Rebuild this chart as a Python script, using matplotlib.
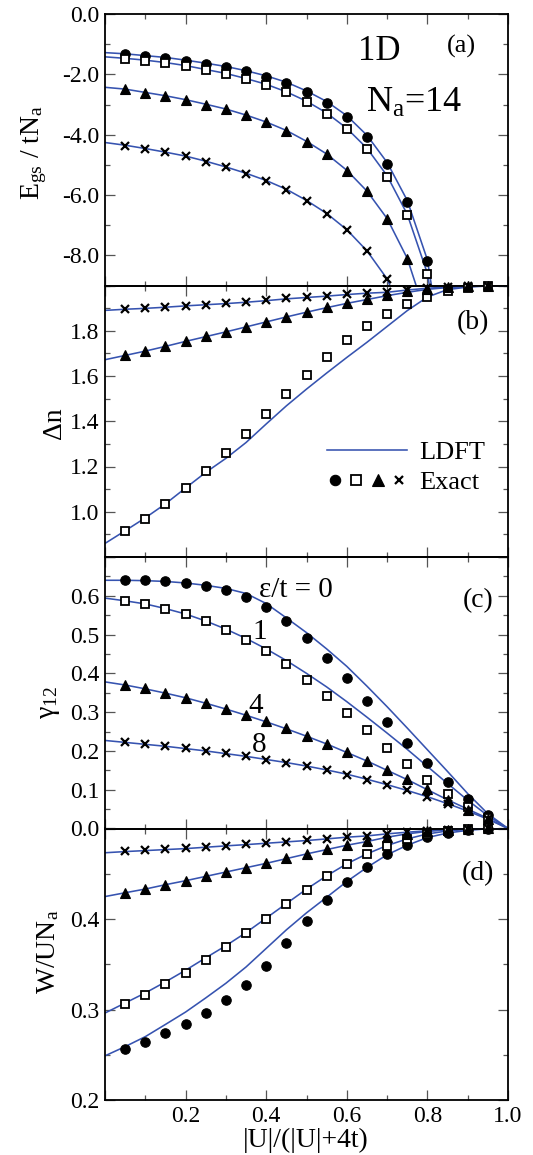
import numpy as np
import matplotlib
matplotlib.use("Agg")
import matplotlib.pyplot as plt
from matplotlib.ticker import MultipleLocator, FixedLocator, FixedFormatter
from matplotlib.lines import Line2D
from matplotlib.legend_handler import HandlerTuple

plt.rcParams['font.family'] = ['Liberation Serif', 'DejaVu Serif']
plt.rcParams['mathtext.fontset'] = 'custom'
plt.rcParams['mathtext.rm'] = 'Liberation Serif'
plt.rcParams['mathtext.it'] = 'Liberation Serif:italic'
plt.rcParams['axes.unicode_minus'] = False

# ---------------- data ----------------
x_exact = [0.05, 0.10, 0.15, 0.20, 0.25, 0.30, 0.35, 0.40, 0.45, 0.50,
           0.55, 0.60, 0.65, 0.70, 0.75, 0.80, 0.85, 0.90, 0.95]
x_ldft = [0.00, 0.05, 0.10, 0.15, 0.20, 0.25, 0.30, 0.35, 0.40, 0.45, 0.50,
          0.55, 0.60, 0.65, 0.70, 0.75, 0.80, 0.85, 0.90, 0.95, 1.00]

# (a) ground-state energy E_gs/tN_a
a_exact_e0 = [-1.33, -1.39, -1.45, -1.55, -1.65, -1.76, -1.90, -2.08, -2.29, -2.59,
              -2.94, -3.42, -4.07, -4.97, -6.24, -8.18]
a_exact_e1 = [-1.49, -1.55, -1.63, -1.73, -1.86, -1.99, -2.16, -2.35, -2.60, -2.91,
              -3.30, -3.81, -4.48, -5.39, -6.67, -8.63]
a_exact_e4 = [-2.50, -2.61, -2.72, -2.85, -3.00, -3.16, -3.36, -3.59, -3.87, -4.23,
              -4.65, -5.19, -5.88, -6.79, -8.11]
a_exact_e8 = [-4.36, -4.47, -4.59, -4.72, -4.89, -5.08, -5.29, -5.53, -5.82, -6.19,
              -6.62, -7.16, -7.86, -8.79]
a_ldft_x_e0 = [0.00, 0.05, 0.10, 0.15, 0.20, 0.25, 0.30, 0.35, 0.40, 0.45, 0.50,
               0.55, 0.60, 0.65, 0.70, 0.75, 0.80, 0.81]
a_ldft_e0 = [-1.28, -1.32, -1.38, -1.44, -1.53, -1.63, -1.74, -1.88, -2.05, -2.26, -2.55,
             -2.90, -3.37, -4.02, -4.92, -6.18, -8.15, -9.00]
a_ldft_x_e1 = [0.00, 0.05, 0.10, 0.15, 0.20, 0.25, 0.30, 0.35, 0.40, 0.45, 0.50,
               0.55, 0.60, 0.65, 0.70, 0.75, 0.80, 0.805]
a_ldft_e1 = [-1.42, -1.47, -1.53, -1.61, -1.71, -1.84, -1.97, -2.14, -2.33, -2.58, -2.89,
             -3.28, -3.79, -4.45, -5.36, -6.64, -8.60, -9.00]
a_ldft_x_e4 = [0.00, 0.05, 0.10, 0.15, 0.20, 0.25, 0.30, 0.35, 0.40, 0.45, 0.50,
               0.55, 0.60, 0.65, 0.70, 0.75, 0.772]
a_ldft_e4 = [-2.43, -2.49, -2.60, -2.71, -2.84, -2.99, -3.15, -3.35, -3.58, -3.86, -4.22,
             -4.64, -5.18, -5.87, -6.78, -8.10, -9.00]
a_ldft_x_e8 = [0.00, 0.05, 0.10, 0.15, 0.20, 0.25, 0.30, 0.35, 0.40, 0.45, 0.50,
               0.55, 0.60, 0.65, 0.70, 0.707]
a_ldft_e8 = [-4.26, -4.35, -4.46, -4.58, -4.71, -4.88, -5.07, -5.28, -5.52, -5.81, -6.18,
             -6.61, -7.15, -7.85, -8.78, -9.00]

# (b) density difference
b_exact_e1 = [0.913, 0.970, 1.034, 1.103, 1.180, 1.260, 1.345, 1.432, 1.520, 1.605,
              1.685, 1.757, 1.821, 1.874, 1.917, 1.951, 1.974, 1.987, 1.996]
b_exact_e4 = [1.692, 1.711, 1.732, 1.754, 1.775, 1.796, 1.818, 1.840, 1.862, 1.883,
              1.903, 1.923, 1.940, 1.958, 1.974, 1.986, 1.993, 1.996, 1.998]
b_exact_e8 = [1.896, 1.899, 1.905, 1.911, 1.915, 1.921, 1.927, 1.934, 1.943, 1.948,
              1.953, 1.961, 1.967, 1.971, 1.982, 1.989, 1.993, 1.996, 1.998]
b_ldft_e1 = [0.860, 0.916, 0.973, 1.035, 1.105, 1.174, 1.236, 1.306, 1.388, 1.468, 1.542,
             1.613, 1.682, 1.749, 1.819, 1.889, 1.949, 1.982, 1.993, 1.998, 1.999]
b_ldft_e4 = [1.672, 1.691, 1.710, 1.731, 1.753, 1.774, 1.795, 1.817, 1.839, 1.861, 1.882,
             1.902, 1.921, 1.938, 1.955, 1.970, 1.983, 1.991, 1.996, 1.998, 1.999]
b_ldft_e8 = [1.890, 1.895, 1.899, 1.904, 1.910, 1.915, 1.920, 1.926, 1.933, 1.941, 1.947,
             1.953, 1.960, 1.966, 1.970, 1.980, 1.988, 1.993, 1.996, 1.998, 1.999]

# (c) gamma_12
c_exact_e0 = [0.640, 0.640, 0.637, 0.633, 0.626, 0.615, 0.598, 0.572, 0.536, 0.492,
              0.440, 0.387, 0.330, 0.274, 0.220, 0.168, 0.121, 0.076, 0.035]
c_exact_e1 = [0.586, 0.578, 0.566, 0.552, 0.534, 0.513, 0.487, 0.458, 0.424, 0.384,
              0.342, 0.298, 0.253, 0.208, 0.166, 0.126, 0.089, 0.056, 0.028]
c_exact_e4 = [0.371, 0.361, 0.350, 0.337, 0.323, 0.308, 0.293, 0.276, 0.258, 0.239,
              0.219, 0.197, 0.175, 0.150, 0.127, 0.102, 0.074, 0.048, 0.024]
c_exact_e8 = [0.223, 0.218, 0.213, 0.207, 0.200, 0.194, 0.186, 0.177, 0.170, 0.160,
              0.150, 0.139, 0.126, 0.112, 0.098, 0.081, 0.064, 0.045, 0.024]
c_ldft_e0 = [0.640, 0.640, 0.639, 0.637, 0.633, 0.627, 0.619, 0.606, 0.580, 0.543, 0.505,
             0.463, 0.418, 0.367, 0.314, 0.259, 0.203, 0.147, 0.090, 0.038, 0.000]
c_ldft_e1 = [0.594, 0.587, 0.579, 0.567, 0.553, 0.535, 0.514, 0.490, 0.463, 0.433, 0.400,
             0.365, 0.327, 0.287, 0.246, 0.204, 0.160, 0.116, 0.073, 0.033, 0.000]
c_ldft_e4 = [0.378, 0.370, 0.360, 0.349, 0.337, 0.323, 0.308, 0.292, 0.275, 0.257, 0.238,
             0.218, 0.196, 0.174, 0.150, 0.126, 0.100, 0.074, 0.050, 0.026, 0.000]
c_ldft_e8 = [0.227, 0.222, 0.217, 0.212, 0.206, 0.200, 0.193, 0.186, 0.178, 0.170, 0.161,
             0.151, 0.140, 0.127, 0.113, 0.098, 0.082, 0.064, 0.045, 0.024, 0.000]

# (d) W/UN_a
d_exact_e0 = [0.2562, 0.2643, 0.2736, 0.2839, 0.2957, 0.3102, 0.3275, 0.3486, 0.3730, 0.3982,
              0.4211, 0.4414, 0.4580, 0.4717, 0.4821, 0.4902, 0.4950, 0.4980, 0.4998]
d_exact_e1 = [0.3057, 0.3165, 0.3279, 0.3408, 0.3545, 0.3693, 0.3848, 0.4004, 0.4170, 0.4325,
              0.4470, 0.4603, 0.4717, 0.4810, 0.4884, 0.4939, 0.4972, 0.4991, 0.5000]
d_exact_e4 = [0.4292, 0.4333, 0.4381, 0.4425, 0.4473, 0.4521, 0.4569, 0.4617, 0.4669, 0.4721,
              0.4769, 0.4817, 0.4858, 0.4906, 0.4943, 0.4969, 0.4987, 0.4994, 0.5000]
d_exact_e8 = [0.4747, 0.4758, 0.4769, 0.4780, 0.4795, 0.4810, 0.4824, 0.4839, 0.4854, 0.4869,
              0.4887, 0.4906, 0.4920, 0.4943, 0.4961, 0.4976, 0.4987, 0.4998, 0.5000]
d_ldft_e0 = [0.2488, 0.2590, 0.2700, 0.2835, 0.2972, 0.3128, 0.3290, 0.3470, 0.3675, 0.3880,
             0.4068, 0.4240, 0.4414, 0.4570, 0.4710, 0.4815, 0.4900, 0.4950, 0.4980, 0.4997, 0.5000]
d_ldft_e1 = [0.2961, 0.3072, 0.3183, 0.3305, 0.3434, 0.3571, 0.3705, 0.3850, 0.4010, 0.4170,
             0.4330, 0.4477, 0.4610, 0.4720, 0.4812, 0.4885, 0.4940, 0.4973, 0.4991, 0.4999, 0.5000]
d_ldft_e4 = [0.4248, 0.4290, 0.4331, 0.4379, 0.4423, 0.4471, 0.4519, 0.4567, 0.4615, 0.4667,
             0.4719, 0.4767, 0.4815, 0.4856, 0.4904, 0.4941, 0.4968, 0.4986, 0.4994, 0.4999, 0.5000]
d_ldft_e8 = [0.4732, 0.4745, 0.4756, 0.4767, 0.4778, 0.4793, 0.4808, 0.4822, 0.4837, 0.4852,
             0.4867, 0.4885, 0.4904, 0.4918, 0.4941, 0.4959, 0.4975, 0.4986, 0.4996, 0.4999, 0.5000]

# ---------------- style ----------------
BLUE = '#3653b0'
LW = 1.15
mk = {
    'e0': dict(marker='o', ms=6.8, mfc='black', mec='black', mew=0.8),
    'e1': dict(marker='s', ms=6.2, mfc='white', mec='black', mew=1.3),
    'e4': dict(marker='^', ms=7.2, mfc='black', mec='black', mew=0.8),
    'e8': dict(marker='x', ms=5.5, mfc='none', mec='black', mew=1.6),
}

W, H = 533, 1155
fig = plt.figure(figsize=(W / 100, H / 100), dpi=100)
left, right = 105, 508
tops = [14, 285.5, 557, 828.5]
ph = 271.5
axes = []
for t in tops:
    ax = fig.add_axes([left / W, 1 - (t + ph) / H, (right - left) / W, ph / H])
    axes.append(ax)
axa, axb, axc, axd = axes


def style(ax):
    ax.set_xlim(0, 1)
    ax.xaxis.set_major_locator(MultipleLocator(0.2))
    ax.xaxis.set_minor_locator(MultipleLocator(0.1))
    ax.tick_params(which='both', direction='in', top=True, right=True,
                   labelsize=17, pad=4, color='#555555')
    ax.tick_params(which='major', length=7.5, width=0.9)
    ax.tick_params(which='minor', length=3.8, width=0.9)
    for s in ax.spines.values():
        s.set_linewidth(1.3)
    ax.set_facecolor('none')


for ax in axes:
    style(ax)
for ax in axes[:3]:
    ax.tick_params(labelbottom=False)
axd.xaxis.set_major_locator(FixedLocator([0.0, 0.2, 0.4, 0.6, 0.8, 1.0]))
axd.xaxis.set_major_formatter(FixedFormatter(['', '0.2', '0.4', '0.6', '0.8', '1.0']))


def draw(ax, xl_list, yl_list, ex_list, keys):
    for xl, yl in zip(xl_list, yl_list):
        ax.plot(xl, yl, color=BLUE, lw=LW, zorder=2)
    for ye, k in zip(ex_list, keys):
        ax.plot(x_exact[:len(ye)], ye, ls='none', clip_on=False, zorder=3, **mk[k])


# (a)
draw(axa, [a_ldft_x_e0, a_ldft_x_e1, a_ldft_x_e4, a_ldft_x_e8],
     [a_ldft_e0, a_ldft_e1, a_ldft_e4, a_ldft_e8],
     [a_exact_e0, a_exact_e1, a_exact_e4, a_exact_e8], ['e0', 'e1', 'e4', 'e8'])
axa.set_ylim(-9.0, 0.0)
axa.yaxis.set_major_locator(FixedLocator([0, -2, -4, -6, -8]))
axa.yaxis.set_major_formatter(FixedFormatter(['0.0', '-2.0', '-4.0', '-6.0', '-8.0']))
axa.yaxis.set_minor_locator(MultipleLocator(1.0))

# (b)
draw(axb, [x_ldft] * 3, [b_ldft_e1, b_ldft_e4, b_ldft_e8],
     [b_exact_e1, b_exact_e4, b_exact_e8], ['e1', 'e4', 'e8'])
axb.set_ylim(0.8, 2.0)
axb.yaxis.set_major_locator(FixedLocator([0.8, 1.0, 1.2, 1.4, 1.6, 1.8, 2.0]))
axb.yaxis.set_major_formatter(FixedFormatter(['', '1.0', '1.2', '1.4', '1.6', '1.8', '']))
axb.yaxis.set_minor_locator(MultipleLocator(0.1))

# (c)
draw(axc, [x_ldft] * 4, [c_ldft_e0, c_ldft_e1, c_ldft_e4, c_ldft_e8],
     [c_exact_e0, c_exact_e1, c_exact_e4, c_exact_e8], ['e0', 'e1', 'e4', 'e8'])
axc.set_ylim(0.0, 0.7)
axc.yaxis.set_major_locator(FixedLocator([0.0, 0.1, 0.2, 0.3, 0.4, 0.5, 0.6, 0.7]))
axc.yaxis.set_major_formatter(FixedFormatter(['0.0', '0.1', '0.2', '0.3', '0.4', '0.5', '0.6', '']))
axc.yaxis.set_minor_locator(MultipleLocator(0.05))

# (d)
draw(axd, [x_ldft] * 4, [d_ldft_e0, d_ldft_e1, d_ldft_e4, d_ldft_e8],
     [d_exact_e0, d_exact_e1, d_exact_e4, d_exact_e8], ['e0', 'e1', 'e4', 'e8'])
axd.set_ylim(0.2, 0.5)
axd.yaxis.set_major_locator(FixedLocator([0.2, 0.3, 0.4, 0.5]))
axd.yaxis.set_major_formatter(FixedFormatter(['0.2', '0.3', '0.4', '']))
axd.yaxis.set_minor_locator(MultipleLocator(0.05))

# ---------------- texts ----------------
def ftext(px, py, s, **kw):
    fig.text(px / W, 1 - py / H, s, **kw)

ftext(34, 152, r'E$_{\rm gs}$ / tN$_{\rm a}$', rotation=90, ha='center', va='center', fontsize=20)
ftext(55, 423, 'Δn', rotation=90, ha='center', va='center', fontsize=20)
ftext(50, 703, r'γ$_{12}$', rotation=90, ha='center', va='center', fontsize=20)
ftext(48, 952, r'W/UN$_{\rm a}$', rotation=90, ha='center', va='center', fontsize=20)
ftext(306, 1140, '|U|/(|U|+4t)', ha='center', va='center', fontsize=20)

ftext(379, 51, '1D', ha='center', va='center', fontsize=25)
ftext(461, 46, '(a)', ha='center', va='center', fontsize=19)
ftext(414, 103, r'N$_{\rm a}$=14', ha='center', va='center', fontsize=26)
ftext(473, 323, '(b)', ha='center', va='center', fontsize=20)
ftext(478, 601, '(c)', ha='center', va='center', fontsize=20)
ftext(478, 874, '(d)', ha='center', va='center', fontsize=20)
ftext(296, 590, 'ε/t = 0', ha='center', va='center', fontsize=21)
ftext(260, 632, '1', ha='center', va='center', fontsize=21)
ftext(256, 706, '4', ha='center', va='center', fontsize=21)
ftext(259, 745, '8', ha='center', va='center', fontsize=21)

# legend in (b)
h_line = Line2D([], [], color=BLUE, lw=LW)
h_pts = tuple(Line2D([], [], ls='none', **dict(mk[k], ms=mk[k]['ms'] * 1.1)) for k in ['e0', 'e1', 'e4', 'e8'])
leg = axb.legend([h_line, h_pts], ['LDFT', 'Exact'], loc='upper left',
                 bbox_to_anchor=((303 - left) / (right - left), (557 - 417) / ph),
                 frameon=False, fontsize=19, handlelength=3.05, handletextpad=0.45,
                 labelspacing=0.25,
                 handler_map={tuple: HandlerTuple(ndivide=None, pad=0.2)})

fig.savefig('out.png', dpi=100)
